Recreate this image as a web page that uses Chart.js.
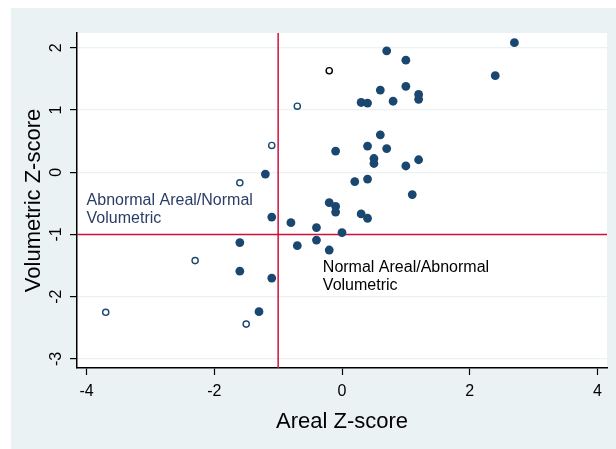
<!DOCTYPE html>
<html>
<head>
<meta charset="utf-8">
<script src="https://cdn.jsdelivr.net/npm/chart.js@4.4.1/dist/chart.umd.min.js"></script>
<style>
  html, body { margin: 0; padding: 0; background: #fff; }
  #wrap { width: 616px; height: 449px; }
</style>
</head>
<body>
<div id="wrap"><canvas id="grafico" width="616" height="449"></canvas></div>
<script>
// puntos rellenos
const rellenoX = [2.7, 0.7, 1.0, 2.4, 0.6, 1.0, 1.2, 1.2, 0.3, 0.4, 0.8,
                  0.6, -0.1, 0.4, 0.7, 0.5, 0.5, 1.0, 1.2, 0.2, 0.4, 1.1,
                  -0.2, -0.1, -0.1, 0.3, 0.4, -0.4, -0.4, 0.0, -0.7, -0.2,
                  -1.1, -0.8, -1.6, -1.6, -1.1, -1.3, -1.2];
const rellenoY = [2.08, 1.95, 1.80, 1.55, 1.32, 1.38, 1.25, 1.17, 1.12, 1.11, 1.14,
                  0.60, 0.34, 0.42, 0.38, 0.22, 0.14, 0.10, 0.20, -0.15, -0.11, -0.36,
                  -0.49, -0.55, -0.64, -0.67, -0.74, -0.89, -1.09, -0.97, -1.18, -1.25,
                  -0.72, -0.81, -1.13, -1.59, -1.70, -2.24, -0.03];
// puntos huecos (azul)
const huecoX = [-0.7, -1.1, -1.6, -2.3, -3.7, -1.5];
const huecoY = [1.06, 0.43, -0.17, -1.42, -2.25, -2.44];
// punto hueco negro
const negroX = [-0.2];
const negroY = [1.63];

const corteX = -1;
const corteY = -1;
const xTicks = [-4, -2, 0, 2, 4];
const yTicks = [-3, -2, -1, 0, 1, 2];
const xRango = [-4.15, 4.15];
const yRango = [-3.145, 2.236];
const notasTexto = [
  ['Abnormal Areal/Normal', 'Volumetric'],
  ['Normal Areal/Abnormal', 'Volumetric']
];

const fuente = "'Liberation Sans', Arial, Helvetica, sans-serif";
const azul = '#1a476f';
const rojo = '#d0103c';
const fondo = '#eaf2f3';

const pares = (xs, ys) => xs.map((x, i) => ({x: x, y: ys[i]}));

// donde va cada nota, en unidades de los ejes
const notasPos = [
  {x: -4, y: -0.52, color: '#2a3d66'},
  {x: -0.3, y: -1.60, color: '#000'}
];

const fondoPlugin = {
  id: 'fondo',
  beforeDraw(chart) {
    const {ctx, chartArea: a} = chart;
    ctx.save();
    ctx.fillStyle = fondo;
    ctx.fillRect(11, 8, chart.width - 11, chart.height - 8);
    ctx.fillStyle = '#fff';
    ctx.fillRect(a.left, a.top, a.right - a.left, a.bottom - a.top);
    ctx.restore();
  }
};

const notasPlugin = {
  id: 'notas',
  afterDatasetsDraw(chart) {
    const {ctx, scales} = chart;
    ctx.save();
    ctx.font = '16px ' + fuente;
    ctx.textAlign = 'left';
    ctx.textBaseline = 'alphabetic';
    notasTexto.forEach((lineas, i) => {
      const p = notasPos[i];
      const px = scales.x.getPixelForValue(p.x);
      const py = scales.y.getPixelForValue(p.y);
      ctx.fillStyle = p.color;
      lineas.forEach((t, j) => ctx.fillText(t, px, py + j * 18.4));
    });
    ctx.restore();
  }
};

new Chart(document.getElementById('grafico'), {
  type: 'scatter',
  data: {
    datasets: [
      {
        data: [{x: corteX, y: yRango[0]}, {x: corteX, y: yRango[1]}],
        showLine: true, borderColor: rojo, borderWidth: 1.5, pointRadius: 0, order: 5
      },
      {
        data: [{x: xRango[0], y: corteY}, {x: xRango[1], y: corteY}],
        showLine: true, borderColor: rojo, borderWidth: 1.5, pointRadius: 0, order: 5
      },
      {
        data: pares(rellenoX, rellenoY),
        backgroundColor: azul, borderColor: azul, borderWidth: 0, pointRadius: 4.4, order: 1
      },
      {
        data: pares(huecoX, huecoY),
        backgroundColor: '#fff', borderColor: azul, borderWidth: 1.4, pointRadius: 3.1, order: 1
      },
      {
        data: pares(negroX, negroY),
        backgroundColor: '#fff', borderColor: '#000', borderWidth: 1.4, pointRadius: 3.1, order: 1
      }
    ]
  },
  options: {
    responsive: false,
    animation: false,
    events: [],
    layout: { padding: { left: 0, right: 9, top: 33, bottom: 0 } },
    plugins: { legend: { display: false }, tooltip: { enabled: false } },
    scales: {
      x: {
        type: 'linear',
        min: xRango[0],
        max: xRango[1],
        afterBuildTicks: s => { s.ticks = xTicks.map(v => ({value: v})); },
        afterFit: s => { s.height = 81; },
        grid: { drawOnChartArea: false, drawTicks: true, tickLength: 7, tickColor: '#000', tickWidth: 1.2 },
        border: { display: true, color: '#000', width: 1.5 },
        ticks: {
          color: '#000', padding: 7, maxRotation: 0, autoSkip: false,
          font: { family: fuente, size: 16 },
          callback: v => String(v)
        },
        title: {
          display: true, text: 'Areal Z-score', color: '#000',
          font: { family: fuente, size: 22 },
          padding: { top: 0, bottom: 14 }
        }
      },
      y: {
        type: 'linear',
        min: yRango[0],
        max: yRango[1],
        afterBuildTicks: s => { s.ticks = yTicks.map(v => ({value: v})); },
        afterFit: s => { s.width = 77; },
        grid: { color: fondo, lineWidth: 1.2, drawTicks: true, tickLength: 7, tickColor: '#000', tickWidth: 1.2 },
        border: { display: true, color: '#000', width: 1.5 },
        ticks: {
          color: '#000', padding: 6, minRotation: 90, maxRotation: 90, crossAlign: 'center', autoSkip: false,
          font: { family: fuente, size: 16 },
          callback: v => String(v)
        },
        title: {
          display: true, text: 'Volumetric Z-score', color: '#000',
          font: { family: fuente, size: 22 },
          padding: { top: 21, bottom: 0 }
        }
      }
    }
  },
  plugins: [fondoPlugin, notasPlugin]
});
</script>
</body>
</html>
